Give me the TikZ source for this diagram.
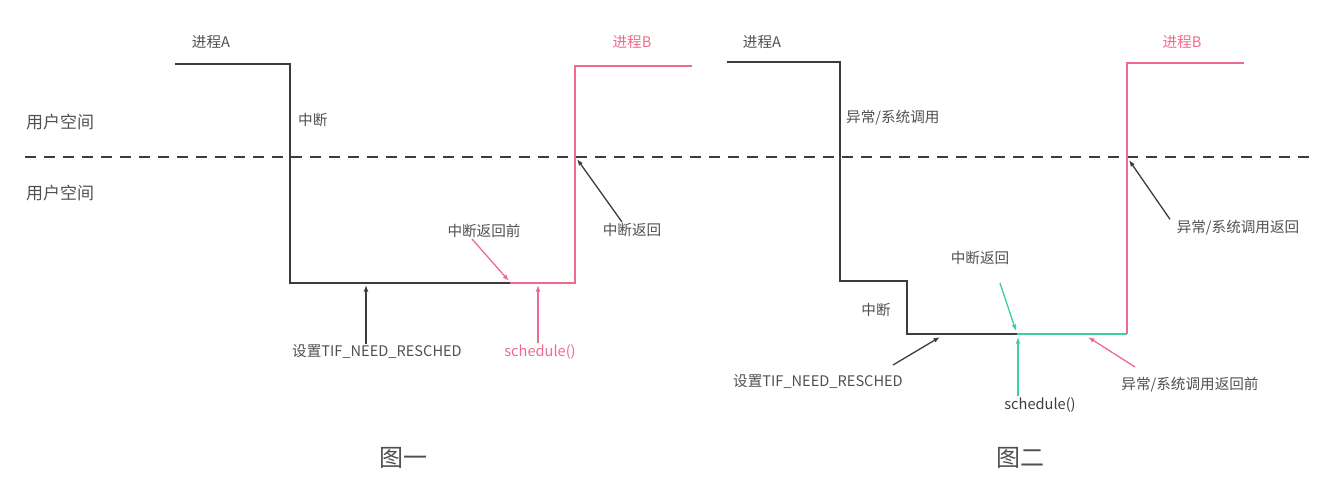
\documentclass[tikz,border=0pt]{standalone}
\usepackage{fontspec}
\setmainfont{Noto Sans CJK SC}
\usetikzlibrary{arrows.meta}
\definecolor{linegray}{HTML}{3C3C3C}
\definecolor{txtgray}{HTML}{505050}
\definecolor{procpink}{HTML}{F06A8C}
\definecolor{irqgreen}{HTML}{3CD2A0}

\begin{document}
\begin{tikzpicture}[x=1pt,y=-1pt,font=\fontsize{14.6}{16}\selectfont,
 lbl/.style={text=txtgray,inner sep=1pt},
 big/.style={font=\fontsize{17}{19}\selectfont},
 trace/.style={line width=1.7pt,linegray},
 arr/.style={-{Latex[length=2.3mm,width=1.7mm]},line width=1.3pt}]
\useasboundingbox (0,0) rectangle (1319,485);
% boundary between the two spaces
\draw[dash pattern=on 11pt off 8pt,line width=1.6pt,linegray] (25,157) -- (1310,157);
\node[lbl,big,anchor=west] (us1) at (25,122) {用户空间};
\node[lbl,big,anchor=west] (us2) at (25,193) {用户空间};

% figure one
\coordinate (a1s) at (175,64);
\coordinate (a1d) at (290,283);
\coordinate (a1e) at (510,283);
\coordinate (b1d) at (575,283);
\coordinate (b1e) at (692,66);
\draw[trace] (a1s) -| (a1d) -- (a1e);
\draw[trace,procpink] (a1e) -- (b1d) |- (b1e);
\node[lbl] (pa1) at (211,42) {进程A};
\node[lbl,text=procpink] (pb1) at (632,42) {进程B};
\node[lbl,anchor=west] (irq1) at (297,120) {中断};
\node[lbl] (pre1) at (484,231) {中断返回前};
\node[lbl] (ret1) at (632,230) {中断返回};
\node[lbl] (set1) at (377,352) {设置TIF\_NEED\_RESCHED};
\node[lbl,text=procpink] (sch1) at (540,352) {schedule()};
\node[lbl,font=\fontsize{24}{26}\selectfont] (fig1) at (403,458) {图一};
\coordinate (tif1) at (366,285);
\coordinate (sc1) at (538,285);
\coordinate (up1) at (577,159);
\draw[arr,linegray] (set1.north -| tif1) -- (tif1);
\draw[arr,procpink] (sch1.north -| sc1) -- (sc1);
\draw[arr,procpink] ([xshift=-12pt]pre1.south) -- (509,281);
\draw[arr,linegray] ([xshift=-10pt]ret1.north) -- (up1);

% figure two
\coordinate (a2s) at (727,62);
\coordinate (a2d) at (840,281);
\coordinate (a2k) at (907,334);
\coordinate (a2e) at (1017,334);
\coordinate (b2d) at (1127,334);
\coordinate (b2e) at (1244,63);
\draw[trace] (a2s) -| (a2d) -| (a2k) -- (a2e);
\draw[trace,irqgreen] (a2e) -- (b2d);
\draw[trace,procpink] (b2d) |- (b2e);
\node[lbl] (pa2) at (762,42) {进程A};
\node[lbl,text=procpink] (pb2) at (1182,42) {进程B};
\node[lbl,anchor=west] (sys2) at (845,118) {异常/系统调用};
\node[lbl] (irq2) at (876,310) {中断};
\node[lbl] (ret2) at (980,258) {中断返回};
\node[lbl] (set2) at (818,382) {设置TIF\_NEED\_RESCHED};
\node[lbl,text=linegray] (sch2) at (1040,405) {schedule()};
\node[lbl] (pre2) at (1190,385) {异常/系统调用返回前};
\node[lbl] (ret2b) at (1238,228) {异常/系统调用返回};
\node[lbl,font=\fontsize{24}{26}\selectfont] (fig2) at (1020,458) {图二};
\coordinate (ret2t) at (1000,283);
\coordinate (set2t) at (893,365);
\coordinate (pre2t) at (1135,367);
\coordinate (sc2) at (1018,337);
\draw[arr,irqgreen] (ret2t) -- (1016,331);
\draw[arr,linegray] (set2t) -- (940,337);
\draw[arr,irqgreen] (sch2.north -| sc2) -- (sc2);
\draw[arr,procpink] (pre2t) -- (1088,337);
\draw[arr,linegray] ([xshift=-68pt]ret2b.north) -- (1129,160);
\end{tikzpicture}
\end{document}
